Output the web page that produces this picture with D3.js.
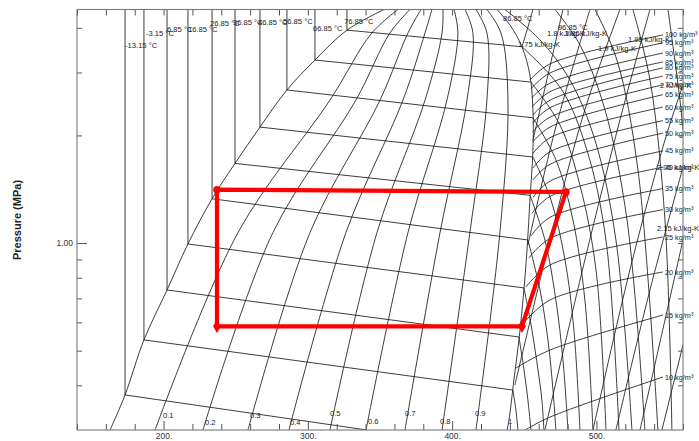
<!DOCTYPE html>
<html><head><meta charset="utf-8">
<script src="https://cdn.jsdelivr.net/npm/d3@7"></script>
<style>body{margin:0;background:#fff}svg{display:block}</style>
</head><body>
<svg id="chart" width="699" height="441"></svg>
<script>
// ---------- data (enthalpy kJ/kg, pressure MPa) ----------
const hDomain = [140, 560];
const pDomain = [0.3, 4.5];
const hTicksMajor = [200, 300, 400, 500];
const hTicksMinor = d3.range(140, 561, 20);
const pTicksMinor = [0.4, 0.5, 0.6, 0.7, 0.8, 0.9, 2, 3, 4];
const pTickMajor = [1];

const satLiquid = [[162.9,0.300],[173.3,0.376],[186.4,0.536],[202.4,0.739],[216.9,0.994],[233.6,1.33],[249.5,1.67],[266.8,2.11],[285.5,2.68],[304.9,3.25],[327.1,3.94],[352.8,4.5]];
const satVapor = [[431.1,4.5],[440.1,4.07],[448.4,3.54],[453.9,2.95],[456.0,2.36],[456.0,1.82],[453.9,1.32],[451.9,0.956],[449.1,0.693],[446.3,0.536],[442.8,0.414],[439.4,0.320],[438.0,0.300]];

const isoLabels = ["-13.15 °C","-3.15 °C","6.85 °C","16.85 °C","26.85 °C","36.85 °C","46.85 °C","56.85 °C","66.85 °C","76.85 °C","86.85 °C","96.85 °C"];
const isoLabelPos = [[173.3,3.51],[187.8,3.80],[202.4,3.89],[216.9,3.89],[232.2,4.05],[248.1,4.07],[265.4,4.07],[282.8,4.10],[303.5,3.92],[325.0,4.10],[435.2,4.18],[473.3,3.94]];
const isoTwoPhase = [
  [[173.3,4.5],[173.3,0.376],[341.0,0.300]],
  [[186.4,4.5],[186.4,0.536],[442.1,0.388]],
  [[202.4,4.5],[202.4,0.739],[446.3,0.546]],
  [[216.9,4.5],[216.9,0.994],[449.8,0.749]],
  [[233.6,4.5],[233.6,1.33],[452.5,1.02]],
  [[249.5,4.5],[249.5,1.67],[453.9,1.36]],
  [[266.8,4.5],[266.8,2.11],[456.0,1.74]],
  [[285.5,4.5],[285.5,2.68],[456.0,2.24]],
  [[304.9,4.5],[304.9,3.25],[454.6,2.82]],
  [[327.1,4.5],[327.1,3.94],[448.4,3.54]]
];
const isoVapor = [
  [[442.1,0.388],[444.2,0.341],[445.6,0.300]],
  [[446.3,0.546],[449.8,0.442],[452.5,0.364],[454.6,0.300]],
  [[449.8,0.749],[455.3,0.571],[459.5,0.442],[462.2,0.364],[463.6,0.300]],
  [[452.5,1.02],[460.9,0.739],[466.4,0.536],[469.9,0.388],[471.9,0.300]],
  [[453.9,1.36],[464.3,1.02],[471.9,0.693],[476.8,0.471],[480.3,0.300]],
  [[456.0,1.74],[468.5,1.32],[478.2,0.897],[484.4,0.571],[488.6,0.300]],
  [[456.0,2.24],[471.9,1.71],[483.7,1.16],[492.0,0.693],[497.6,0.300]],
  [[454.6,2.82],[474.7,2.14],[488.6,1.45],[499.7,0.841],[506.6,0.300]],
  [[448.4,3.54],[476.1,2.68],[493.4,1.82],[506.6,1.02],[515.6,0.300]],
  [[436.6,4.5],[460.9,3.70],[481.6,2.86],[499.0,1.94],[513.5,1.02],[524.6,0.300]],
  [[471.3,4.5],[488.6,3.58],[505.9,2.36],[521.2,1.16],[533.6,0.300]],
  [[499.0,4.5],[514.2,3.25],[528.8,1.60],[542.6,0.300]],
  [[525.3,4.5],[537.1,2.86],[547.5,1.16],[552.3,0.300]],
  [[549.6,4.5],[557.9,2.51],[560.0,2.07]]
];

const qualityLabels = ["0.1","0.2","0.3","0.4","0.5","0.6","0.7","0.8","0.9","1"];
const qualityLabelPos = [[199.6,0.330],[228.7,0.316],[259.9,0.330],[287.6,0.316],[315.3,0.335],[341.7,0.317],[367.3,0.333],[391.6,0.317],[415.8,0.333],[438.7,0.317]];
const qualityLines = [
  [[194.1,0.3],[251.6,1.07],[315.3,2.51],[344.4,3.87],[362.5,4.5]],
  [[227.3,0.3],[275.8,1.07],[333.3,2.51],[356.9,3.87],[370.8,4.5]],
  [[258.5,0.3],[301.5,1.07],[350.0,2.51],[369.4,3.87],[378.4,4.5]],
  [[286.9,0.3],[326.4,1.07],[365.9,2.51],[381.2,3.87],[386.0,4.5]],
  [[315.3,0.3],[347.9,1.07],[381.2,2.51],[393.0,3.87],[393.6,4.5]],
  [[340.3,0.3],[369.4,1.07],[396.4,2.51],[404.0,3.87],[401.3,4.5]],
  [[367.3,0.3],[391.6,1.07],[410.3,2.51],[414.4,3.87],[408.9,4.5]],
  [[393.0,0.3],[412.3,1.07],[424.1,2.51],[424.1,3.87],[416.5,4.5]],
  [[416.5,0.3],[433.1,1.07],[438.7,2.51],[433.8,3.87],[424.1,4.5]]
];

const densityLabels = ["10","15","20","25","30","35","40","45","50","55","60","65","70","75","80","85","90","95","100"];
const densityLabelP = [0.422,0.629,0.830,1.04,1.24,1.42,1.63,1.81,2.03,2.20,2.40,2.60,2.77,2.93,3.09,3.21,3.40,3.63,3.82];
const densityLines = [
  [[450.5,0.300],[467.8,0.326],[546.1,0.422]],
  [[444.2,0.447],[467.8,0.502],[546.1,0.629]],
  [[448.4,0.590],[467.8,0.693],[546.1,0.830]],
  [[451.2,0.754],[467.8,0.868],[546.1,1.04]],
  [[453.2,0.908],[467.8,1.03],[546.1,1.24]],
  [[454.6,1.046],[467.8,1.18],[546.1,1.42]],
  [[455.3,1.21],[467.8,1.35],[546.1,1.63]],
  [[456.0,1.34],[467.8,1.49],[546.1,1.81]],
  [[456.0,1.50],[467.8,1.66],[546.1,2.03]],
  [[456.0,1.62],[467.8,1.80],[546.1,2.20]],
  [[456.0,1.78],[467.8,1.97],[546.1,2.40]],
  [[456.0,1.92],[467.8,2.11],[546.1,2.60]],
  [[456.0,2.05],[467.8,2.25],[546.1,2.77]],
  [[456.0,2.17],[467.8,2.39],[546.1,2.93]],
  [[456.0,2.28],[467.8,2.51],[546.1,3.09]],
  [[455.3,2.40],[467.8,2.65],[546.1,3.21]],
  [[455.3,2.55],[467.8,2.80],[546.1,3.40]],
  [[454.6,2.70],[467.8,2.99],[546.1,3.63]],
  [[453.9,2.86],[467.8,3.17],[546.1,3.82]]
];

const entropyLabels = ["1.75 kJ/kg-K","1.8 kJ/kg-K","1.85 kJ/kg-K","1.9 kJ/kg-K","1.95 kJ/kg-K","2 kJ/kg-K","2.05 kJ/kg-K","2.15 kJ/kg-K"];
const entropyLabelPos = [[445.6,3.60],[465.7,3.87],[478.2,3.87],[501.1,3.51],[521.8,3.72],[544.0,2.77],[542.0,1.63],[541.9,1.10]];
const entropyLines = [
  [[448.4,3.54],[451.9,3.94],[456.0,4.5]],
  [[456.0,1.94],[466.4,2.95],[476.8,4.5]],
  [[452.5,0.988],[471.3,2.07],[495.5,4.5]],
  [[443.5,0.401],[467.8,1.02],[492.0,2.36],[516.3,4.5]],
  [[464.3,0.3],[492.0,0.897],[516.3,2.21],[537.1,4.5]],
  [[497.6,0.3],[523.2,0.841],[547.5,1.94],[560,2.77]],
  [[513.5,0.3],[537.1,0.739],[560,1.63]],
  [[530.2,0.3],[547.5,0.609],[560,1.02]],
  [[545.4,0.3],[560,0.519]]
];

const cycle = [[448.4,0.585],[478.9,1.39],[237.0,1.41],[237.0,0.585],[448.4,0.585]];
const cycleMarker = ["diamond","circle","circle","diamond"];

// ---------- drawing ----------
const m = {left: 77, right: 683, top: 9.5, bottom: 430};
const svg = d3.select("#chart");
const x = d3.scaleLinear().domain(hDomain).range([m.left, m.right]);
const y = d3.scaleLog().domain(pDomain).range([m.bottom, m.top]);

svg.append("defs").append("clipPath").attr("id","clip")
  .append("rect").attr("x",m.left).attr("y",m.top).attr("width",m.right-m.left).attr("height",m.bottom-m.top);

const g = svg.append("g").attr("clip-path","url(#clip)");
const lineStraight = d3.line().x(d=>x(d[0])).y(d=>y(d[1]));
const lineSmooth = d3.line().x(d=>x(d[0])).y(d=>y(d[1])).curve(d3.curveCatmullRom.alpha(0.5));
const stroke = "#1a1a1a", sw = 0.85;

function draw(data, gen){
  g.append("g").selectAll("path").data(data).join("path")
    .attr("d", gen).attr("fill","none").attr("stroke",stroke).attr("stroke-width",sw);
}
draw([satLiquid, satVapor], lineSmooth);
draw(isoTwoPhase, lineStraight);
draw(isoVapor, lineSmooth);
draw(qualityLines, lineSmooth);
draw(densityLines, lineSmooth);
draw(entropyLines, lineSmooth);

const font = "Liberation Sans, Arial, Helvetica, sans-serif";
const lab = svg.append("g").attr("font-family",font).attr("font-size",7.6).attr("fill","#222");
lab.selectAll("text.iso").data(isoLabels).join("text").attr("class","iso")
  .attr("x",(d,i)=>x(isoLabelPos[i][0])).attr("y",(d,i)=>y(isoLabelPos[i][1])).text(d=>d);
lab.selectAll("text.q").data(qualityLabels).join("text").attr("class","q")
  .attr("x",(d,i)=>x(qualityLabelPos[i][0])).attr("y",(d,i)=>y(qualityLabelPos[i][1])).attr("dy","0.35em").text(d=>d);
lab.selectAll("text.rho").data(densityLabels).join("text").attr("class","rho")
  .attr("x",x(547.5)).attr("y",(d,i)=>y(densityLabelP[i])).attr("dy","0.35em").attr("font-size",7.3).text(d=>d+" kg/m³");
lab.selectAll("text.s").data(entropyLabels).join("text").attr("class","s")
  .attr("x",(d,i)=>x(entropyLabelPos[i][0])).attr("y",(d,i)=>y(entropyLabelPos[i][1])).attr("dy","0.35em").text(d=>d);

svg.append("path").datum(cycle).attr("d",lineStraight).attr("fill","none")
  .attr("stroke","#ff0000").attr("stroke-width",4.2).attr("stroke-linejoin","round");
svg.append("g").selectAll("path").data(cycle.slice(0,4)).join("path")
  .attr("transform",d=>`translate(${x(d[0])},${y(d[1])})`)
  .attr("d",(d,i)=>d3.symbol().type(cycleMarker[i]==="circle"?d3.symbolCircle:d3.symbolDiamond).size(cycleMarker[i]==="circle"?44:52)())
  .attr("fill","#ff0000");

const axisCol = "#555";
function styleAxis(sel){ sel.select(".domain").remove(); sel.selectAll("line").attr("stroke",axisCol); sel.selectAll("text").attr("fill","#333").attr("font-family",font).attr("font-size",8.5); }
svg.append("g").attr("transform",`translate(0,${m.bottom})`)
  .call(d3.axisBottom(x).tickValues(hTicksMinor.filter(v=>!hTicksMajor.includes(v))).tickSize(-6).tickFormat("")).call(styleAxis);
svg.append("g").attr("transform",`translate(0,${m.bottom})`)
  .call(d3.axisBottom(x).tickValues(hTicksMajor).tickSize(-9).tickPadding(3).tickFormat(d=>d+".")).call(styleAxis);
svg.append("g").attr("transform",`translate(0,${m.top})`)
  .call(d3.axisTop(x).tickValues(hTicksMinor).tickSize(-6).tickFormat("")).call(styleAxis);
svg.append("g").attr("transform",`translate(${m.left},0)`)
  .call(d3.axisLeft(y).tickValues(pTicksMinor).tickSize(-5).tickFormat("")).call(styleAxis);
svg.append("g").attr("transform",`translate(${m.left},0)`)
  .call(d3.axisLeft(y).tickValues(pTickMajor).tickSize(-10).tickPadding(4).tickFormat(d3.format(".2f"))).call(styleAxis);
svg.append("g").attr("transform",`translate(${m.right},0)`)
  .call(d3.axisRight(y).tickValues(pTicksMinor.concat(pTickMajor)).tickSize(-5).tickFormat("")).call(styleAxis);

svg.append("rect").attr("x",m.left).attr("y",m.top).attr("width",m.right-m.left).attr("height",m.bottom-m.top)
  .attr("fill","none").attr("stroke","#777").attr("stroke-width",1.1);

svg.append("text").attr("transform",`translate(21,220) rotate(-90)`).attr("text-anchor","middle")
  .attr("font-family",font).attr("font-weight","bold").attr("font-size",11).attr("fill","#222").text("Pressure (MPa)");
</script>
</body></html>
